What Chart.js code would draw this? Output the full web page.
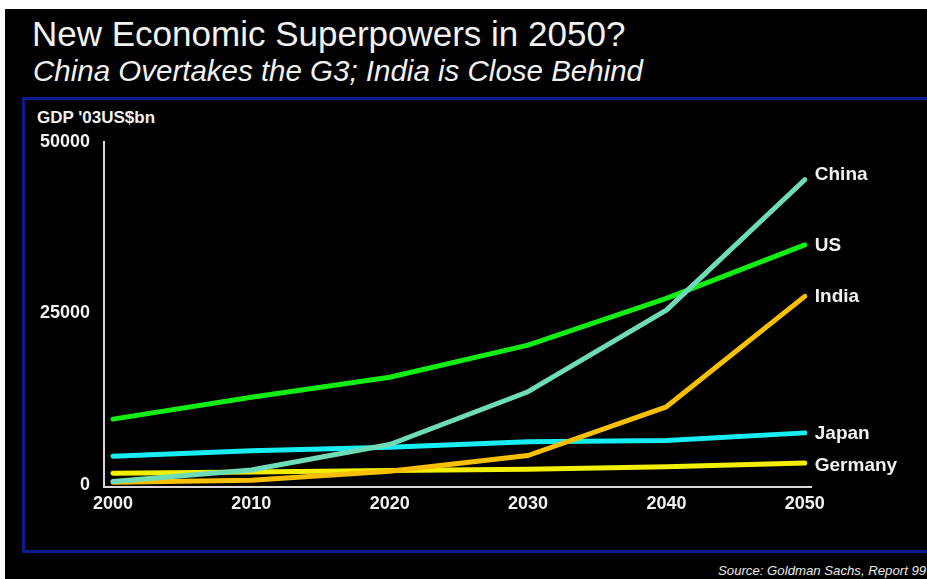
<!DOCTYPE html>
<html>
<head>
<meta charset="utf-8">
<script src="https://cdn.jsdelivr.net/npm/chart.js@4"></script>
<style>
  html, body { margin: 0; padding: 0; width: 927px; height: 579px; overflow: hidden; background: #fff; }
  #slide { position: absolute; left: 5px; top: 9px; right: 0; bottom: 0; background: #000; }
  #frame { position: absolute; left: 22px; top: 97px; width: 920px; height: 456px;
           border: 3px solid #0b1d8e; box-sizing: border-box; }
  .txt { position: absolute; color: #f2f2f2; font-family: "Liberation Sans", Arial, sans-serif; white-space: nowrap; }
  #title { left: 32px; top: 14px; font-size: 35px; }
  #subtitle { left: 33px; top: 54px; font-size: 29.5px; font-style: italic; }
  #ytitle { left: 37px; top: 108px; font-size: 17px; font-weight: bold; }
  #source { left: 718px; top: 563px; font-size: 13.2px; font-style: italic; color: #e8e8e8; }
  canvas { position: absolute; left: 0; top: 0; }
</style>
</head>
<body>
<div id="slide"></div>
<div id="frame"></div>
<div class="txt" id="title">New Economic Superpowers in 2050?</div>
<div class="txt" id="subtitle">China Overtakes the G3; India is Close Behind</div>
<div class="txt" id="ytitle">GDP '03US$bn</div>
<div class="txt" id="source">Source: Goldman Sachs, Report 99</div>
<canvas id="chart" width="927" height="579"></canvas>

<script>
// years on the x axis
const years = [2000, 2010, 2020, 2030, 2040, 2050];

// GDP in 2003 US$ bn
const china   = [500, 2200, 5900, 13600, 25500, 44500];
const india   = [400, 700, 2000, 4300, 11400, 27500];
const us      = [9600, 12800, 15700, 20400, 27200, 35000];
const japan   = [4200, 5000, 5500, 6300, 6500, 7600];
const germany = [1700, 1900, 2100, 2300, 2650, 3200];

// tick labels
const xTicks = [2000, 2010, 2020, 2030, 2040, 2050];
const yTicks = [0, 25000, 50000];

function pts(values) {
  return years.map((yr, i) => ({ x: yr, y: values[i] }));
}

function series(label, values, color, shift) {
  return {
    label: label,
    data: pts(values),
    borderColor: color,
    backgroundColor: color,
    borderWidth: 5,
    borderCapStyle: 'round',
    borderJoinStyle: 'round',
    pointRadius: 0,
    tension: 0,
    fill: false,
    labelShift: shift
  };
}

// draws the series name just right of each line end
const endLabels = {
  id: 'endLabels',
  afterDatasetsDraw(chart) {
    const ctx = chart.ctx;
    ctx.save();
    ctx.font = 'bold 19px "Liberation Sans", Arial, sans-serif';
    ctx.fillStyle = '#f0f0f0';
    ctx.textBaseline = 'middle';
    ctx.textAlign = 'left';
    chart.data.datasets.forEach((ds, i) => {
      const meta = chart.getDatasetMeta(i);
      const last = meta.data[meta.data.length - 1];
      ctx.fillText(ds.label, last.x + 10, last.y + ds.labelShift);
    });
    ctx.restore();
  }
};

const tickFont = { family: '"Liberation Sans", Arial, sans-serif', size: 18, weight: 'bold' };

new Chart(document.getElementById('chart').getContext('2d'), {
  type: 'line',
  data: {
    datasets: [
      series('China', china, '#6edcb6', -5),
      series('India', india, '#f8c000', 0),
      series('US', us, '#12ee12', 1),
      series('Japan', japan, '#17eef4', 1),
      series('Germany', germany, '#f2f000', 3)
    ]
  },
  options: {
    responsive: false,
    animation: false,
    layout: { padding: { left: 34, top: 142, right: 116, bottom: 52 } },
    plugins: {
      legend: { display: false },
      tooltip: { enabled: false }
    },
    scales: {
      x: {
        type: 'linear',
        min: 1999.35,
        max: 2050.45,
        grid: { display: false, drawTicks: false },
        border: { color: '#d8d8d8', width: 2 },
        afterBuildTicks: axis => { axis.ticks = xTicks.map(v => ({ value: v })); },
        afterFit: axis => { axis.height = 40; },
        ticks: {
          color: '#f2f2f2',
          font: tickFont,
          padding: 6,
          maxRotation: 0,
          callback: v => String(v)
        }
      },
      y: {
        type: 'linear',
        min: -290,
        max: 50000,
        grid: { display: false, drawTicks: false },
        border: { color: '#d8d8d8', width: 2 },
        afterBuildTicks: axis => { axis.ticks = yTicks.map(v => ({ value: v })); },
        afterFit: axis => { axis.width = 70; },
        ticks: {
          color: '#f2f2f2',
          font: tickFont,
          padding: 14,
          callback: v => String(v)
        }
      }
    }
  },
  plugins: [endLabels]
});
</script>
</body>
</html>
